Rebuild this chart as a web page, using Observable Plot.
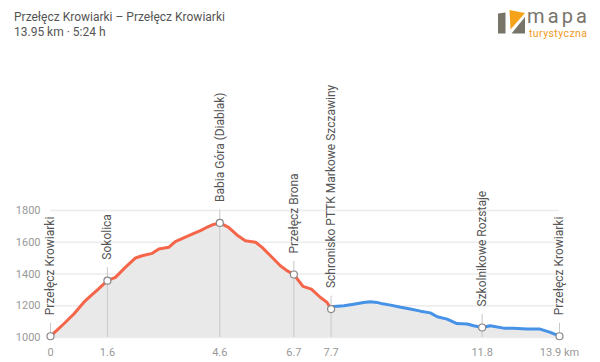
<!DOCTYPE html>
<html>
<head>
<meta charset="utf-8">
<script src="https://cdn.jsdelivr.net/npm/d3@7"></script>
<script src="https://cdn.jsdelivr.net/npm/@observablehq/plot@0.6"></script>
<style>
  body { margin: 0; background: #fff; font-family: Roboto, sans-serif; }
  #wrap { width: 600px; height: 362px; position: relative; overflow: hidden; }
  #header { position: relative; height: 45px; }
  #title { position: absolute; left: 14px; top: 10px; font-size: 12px; color: #555; line-height: 15px; white-space: nowrap; }
  #logo { position: absolute; left: 490px; top: 0; }
  #chart svg { display: block; }
</style>
</head>
<body>
<div id="wrap">
  <div id="header">
    <div id="title">Przełęcz Krowiarki – Przełęcz Krowiarki<br>13.95 km · 5:24 h</div>
    <svg id="logo" width="110" height="45" viewBox="0 0 110 45">
      <polygon points="8,13.5 15.5,12.5 15.5,33.5 8,33.5" fill="#77746a"/>
      <polygon points="19.5,10 35,13 20.5,29.5" fill="#f6a31c"/>
      <polygon points="21.5,33.5 35,17 35,33.5" fill="#77746a"/>
      <text x="37" y="22.5" font-family="Roboto" font-size="20" fill="#77746a" textLength="60" lengthAdjust="spacing">mapa</text>
      <text x="39" y="36.5" font-family="Roboto" font-size="10.5" fill="#f29a1e" textLength="58" lengthAdjust="spacing">turystyczna</text>
    </svg>
  </div>
  <div id="chart"></div>
</div>
<script>
// Elevation profile (distance in km, elevation in m)
const distKm = [0.00, 0.15, 0.36, 0.64, 0.91, 1.10, 1.28, 1.45, 1.56, 1.78, 2.05, 2.33, 2.51, 2.79, 2.97, 3.24, 3.42, 3.65, 3.93, 4.11, 4.25, 4.47, 4.64, 4.88, 5.11, 5.34, 5.62, 5.80, 6.03, 6.30, 6.48, 6.67, 6.92, 7.15, 7.40, 7.58, 7.69,
                7.76, 8.04, 8.31, 8.58, 8.77, 8.95, 9.10, 9.32, 9.60, 9.86, 10.14, 10.41, 10.60, 10.87, 11.14, 11.42, 11.60, 11.83, 12.05, 12.42, 12.69, 13.06, 13.42, 13.70, 13.95];
const elevM  = [1008, 1040, 1085, 1148, 1221, 1262, 1299, 1335, 1358, 1379, 1442, 1501, 1515, 1530, 1558, 1568, 1604, 1628, 1656, 1673, 1690, 1712, 1722, 1694, 1646, 1610, 1600, 1568, 1515, 1452, 1421, 1397, 1322, 1305, 1252, 1221, 1179,
                1196, 1200, 1210, 1221, 1225, 1221, 1212, 1204, 1190, 1179, 1166, 1155, 1131, 1116, 1088, 1085, 1074, 1063, 1074, 1059, 1059, 1053, 1053, 1032, 1008];

// Waypoints
const wpName = ["Przełęcz Krowiarki", "Sokolica", "Babia Góra (Diablak)", "Przełęcz Brona", "Schronisko PTTK Markowe Szczawiny", "Szkolnikowe Rozstaje", "Przełęcz Krowiarki"];
const wpKm   = [0, 1.56, 4.64, 6.67, 7.69, 11.83, 13.95];
const wpElev = [1008, 1358, 1722, 1397, 1179, 1063, 1008];

// Tick labels
const xTickLabels = ["0", "1.6", "4.6", "6.7", "7.7", "11.8", "13.9 km"];
const yTicks = [1000, 1200, 1400, 1600, 1800];
const splitKm = 7.69;

const profile = distKm.map((km, i) => ({km, elev: elevM[i]}));
const wps = wpKm.map((km, i) => ({km, elev: wpElev[i], name: wpName[i]}));
const tickMap = new Map(wpKm.map((k, i) => [k, xTickLabels[i]]));

const chart = Plot.plot({
  width: 600,
  height: 317,
  marginLeft: 50,
  marginRight: 41,
  marginTop: 165,
  marginBottom: 25,
  style: {fontFamily: "Roboto", fontSize: "11px", color: "#999", background: "transparent"},
  x: {domain: [0, 13.95], ticks: wpKm, tickFormat: d => tickMap.get(d), tickSize: 0, tickPadding: 11, label: null},
  y: {domain: [1000, 1800], ticks: yTicks, tickFormat: d => String(d), tickSize: 0, tickPadding: 10, label: null},
  marks: [
    Plot.ruleY(yTicks, {stroke: "#ececec", strokeWidth: 1.5}),
    Plot.areaY(profile, {x: "km", y1: 1000, y2: "elev", fill: "#e9e9e9"}),
    Plot.ruleX(wps, {x: "km", y1: "elev", y2: 1000, insetTop: -13, stroke: "#c8c8c8", strokeWidth: 1}),
    Plot.line(profile.filter(d => d.km <= splitKm), {x: "km", y: "elev", stroke: "#f5654a", strokeWidth: 3, strokeLinejoin: "round"}),
    Plot.line(profile.filter(d => d.km >= splitKm), {x: "km", y: "elev", stroke: "#4592e6", strokeWidth: 3, strokeLinejoin: "round"}),
    Plot.dot(wps, {x: "km", y: "elev", r: 3.5, fill: "#fff", stroke: "#888", strokeWidth: 1.2}),
    Plot.text(wps, {x: "km", y: "elev", text: "name", rotate: -90, textAnchor: "start", dy: -21, fill: "#555", fontSize: 12})
  ]
});
document.getElementById("chart").appendChild(chart);
</script>
</body>
</html>
